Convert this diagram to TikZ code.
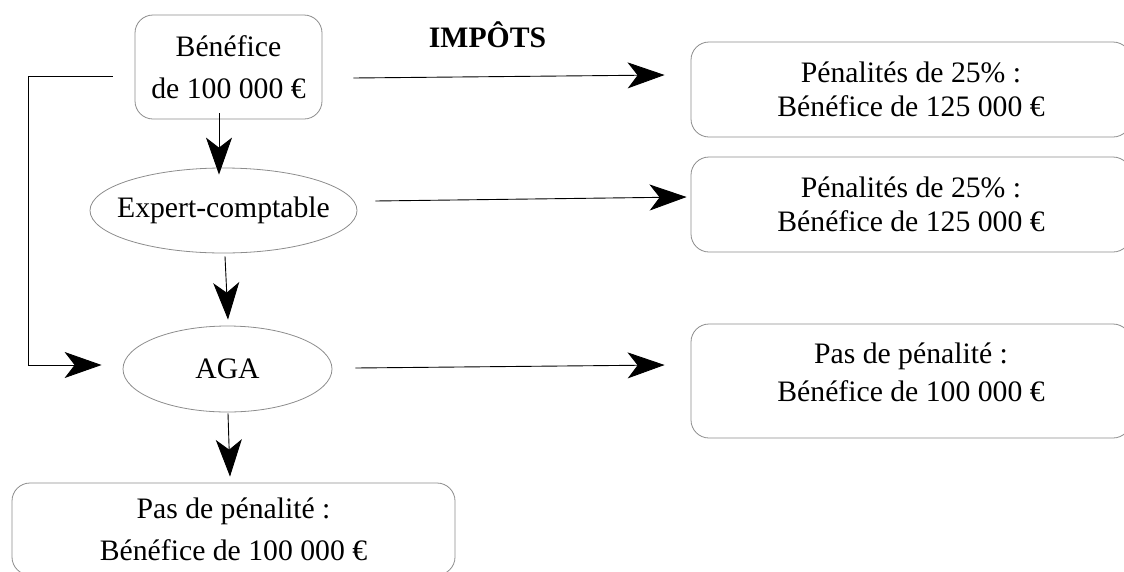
\documentclass[tikz,border=0pt]{standalone}
\usepackage{fontspec}
\setmainfont{Liberation Serif}
\usetikzlibrary{arrows.meta,shapes.geometric,calc}
\begin{document}
\begin{tikzpicture}[x=1pt,y=-1pt,
  box/.style={draw=gray!90, line width=0.8pt, rounded corners=18pt, align=center, inner sep=0pt},
  ell/.style={draw=gray!90, line width=0.8pt, ellipse, inner ysep=0pt, inner xsep=-20pt},
  conn/.style={draw=black, line width=0.9pt},
  arr/.style={conn, -{Stealth[length=37pt,width=26pt,inset=10pt]}},
  font=\fontsize{29.7}{34}\selectfont]
\clip (0,0) rectangle (1124,571);
\node[box, minimum width=187, minimum height=104, font=\fontsize{29.7}{42}\selectfont] (b1) at (228.5,67) {Bénéfice\\de 100 000 €};
\node[ell, minimum width=267, minimum height=85] (ex) at (223.5,210.5) {Expert-comptable};
\node[ell, minimum width=209, minimum height=86] (aga) at (227.5,369) {AGA};
\node[box, minimum width=440, minimum height=95] (r1) at (911,89.5) {Pénalités de 25\% :\\Bénéfice de 125 000 €};
\node[box, minimum width=440, minimum height=95] (r2) at (911,204.5) {Pénalités de 25\% :\\Bénéfice de 125 000 €};
\node[box, minimum width=440, minimum height=114,
  label={[align=center, yshift=9, font=\fontsize{29.7}{38}\selectfont]center:{Pas de pénalité :\\Bénéfice de 100 000 €}}] (r3) at (911,381) {};
\node[box, minimum width=443, minimum height=92, font=\fontsize{29.7}{42}\selectfont] (bot) at (233.5,529) {Pas de pénalité :\\Bénéfice de 100 000 €};
\node[font=\bfseries\fontsize{29.7}{34}\selectfont, anchor=base] (imp) at (487.5,47) {IMPÔTS};
\coordinate (cTL) at (28,76);
\coordinate (cBL) at (28,365);
\draw[arr] ($(b1.south)+(-9.5,-6)$) -- ($(ex.north)+(-4.5,7)$);
\draw[arr] ($(ex.south)+(1.5,3)$) -- ($(aga.north)+(0.5,-6)$);
\draw[arr] ($(aga.south)+(0.5,1)$) -- ($(bot.north)+(-3.5,-6)$);
\draw[arr] ($(b1.west)+(-22,9)$) -- (cTL) -- (cBL) -- ($(aga.west)+(-21,-4)$);
\draw[arr] ($(b1.east)+(31,11)$) -- ($(r1.west)+(-26,-14.5)$);
\draw[arr] ($(ex.east)+(18,-9.5)$) -- ($(r2.west)+(-4,-7.5)$);
\draw[arr] ($(aga.east)+(23,-1)$) -- ($(r3.west)+(-26,-16)$);
\end{tikzpicture}
\end{document}
